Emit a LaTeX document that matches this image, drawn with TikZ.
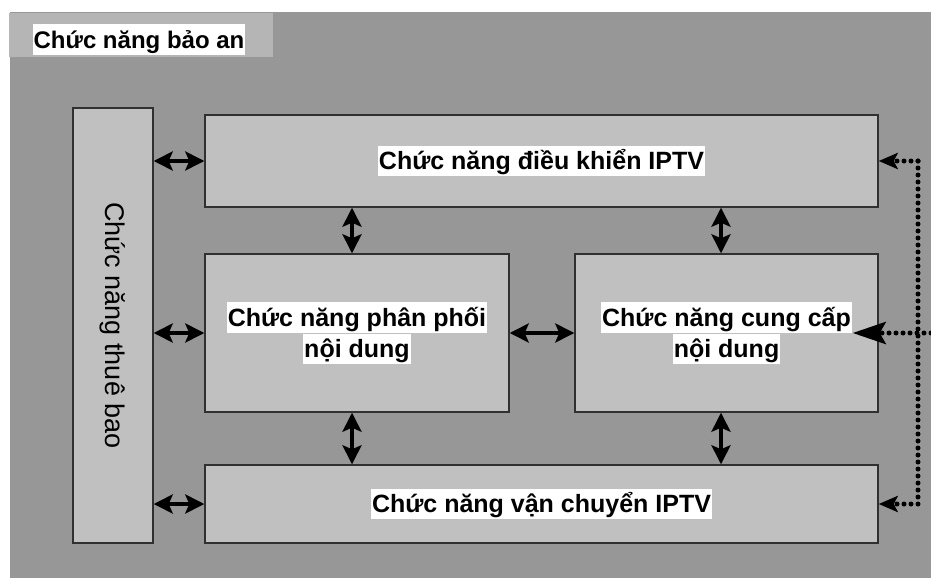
\documentclass[tikz,border=0pt]{standalone}
\usepackage{fontspec}
\setmainfont{Liberation Sans}
\usetikzlibrary{arrows.meta}
\definecolor{bgout}{HTML}{979797}
\definecolor{boxfill}{HTML}{C0C0C0}
\definecolor{titlefill}{HTML}{B5B5B5}
\definecolor{edge}{HTML}{303030}
\newcommand{\hlline}[1]{{\setlength{\fboxsep}{1pt}\colorbox{white}{\rule[-5pt]{0pt}{28pt}#1}}}
\begin{document}
\begin{tikzpicture}[x=1pt,y=-1pt,
  fbox/.style={draw=edge,line width=1.4pt,fill=boxfill,inner sep=0pt,
    font=\bfseries\fontsize{25}{30}\selectfont,align=center},
  dbl/.style={line width=4pt,
    {Stealth[length=19pt,width=19pt,inset=4pt]}-{Stealth[length=19pt,width=19pt,inset=4pt]}},
  dotline/.style={line width=5pt,line cap=round,dash pattern=on 0pt off 7pt},
  smalltip/.style={-{Stealth[length=19pt,width=16pt,inset=4pt]}},
  bigtip/.style={-{Stealth[length=33pt,width=22pt,inset=6pt]}}
]
\useasboundingbox (0,0) rectangle (931,578);
% background
\fill[bgout] (10,12) rectangle (931,578);
\fill[titlefill] (9,13) rectangle (273,57);
\node[inner sep=0pt,font=\bfseries\fontsize{24}{28}\selectfont] (title) at (139,39.5) {\hlline{Chức năng bảo an}};

% boxes
\node[fbox,minimum width=80pt,minimum height=435pt] (sub) at (113,325.5) {};
\node[rotate=-90,inner sep=0pt,font=\fontsize{27}{32}\selectfont] (subtxt) at (sub.center) {Chức năng thuê bao};
\node[fbox,minimum width=673pt,minimum height=92pt] (ctrl) at (541.5,161) {\hlline{Chức năng điều khiển IPTV}};
\node[fbox,minimum width=304pt,minimum height=158pt] (dist) at (357,333) {\hlline{Chức năng phân phối}\\\hlline{nội dung}};
\node[fbox,minimum width=303pt,minimum height=158pt] (prov) at (726.5,333) {\hlline{Chức năng cung cấp}\\\hlline{nội dung}};
\node[fbox,minimum width=673pt,minimum height=78pt] (trans) at (541.5,504) {\hlline{Chức năng vận chuyển IPTV}};

% solid double arrows
\coordinate (xa) at (352,0);
\coordinate (xb) at (721,0);
\draw[dbl] (sub.east |- ctrl.west) -- (ctrl.west);
\draw[dbl] (sub.east |- dist.west) -- (dist.west);
\draw[dbl] (sub.east |- trans.west) -- (trans.west);
\draw[dbl] (dist.east) -- (prov.west);
\draw[dbl] (ctrl.south -| xa) -- (dist.north -| xa);
\draw[dbl] (ctrl.south -| xb) -- (prov.north -| xb);
\draw[dbl] (dist.south -| xa) -- (trans.north -| xa);
\draw[dbl] (prov.south -| xb) -- (trans.north -| xb);

% dotted connections
\coordinate (dtop) at (918,161);
\coordinate (dbot) at (918,504);
\coordinate (dext) at (931,333);
\draw[dotline] (dtop) -- (dbot);
\draw[dotline,smalltip] (dtop) -- (ctrl.east);
\draw[dotline,smalltip] (dbot) -- (trans.east);
\draw[dotline,bigtip,shorten >=-26pt] (dext) -- (prov.east);
\end{tikzpicture}
\end{document}
